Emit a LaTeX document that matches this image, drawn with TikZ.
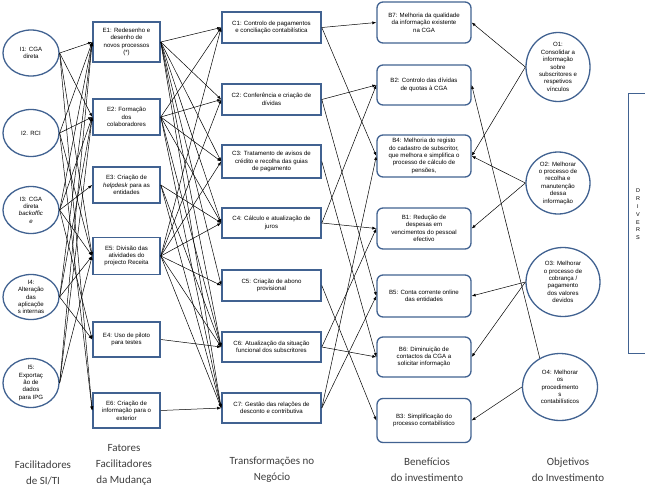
\documentclass[tikz,border=0pt]{standalone}
\usepackage{fontspec}
\setmainfont{Liberation Sans}
\newfontfamily\labfont{Carlito}
\usetikzlibrary{shapes.geometric,arrows.meta}
\definecolor{bcol}{RGB}{65,98,145}
\definecolor{lcol}{RGB}{60,60,60}
\newcommand\nf{\fontsize{6.1}{7.4}\selectfont}
\begin{document}
\begin{tikzpicture}[x=1pt,y=-1pt,
  ibub/.style={ellipse, draw=bcol, line width=1.3pt, minimum width=56pt, minimum height=46pt, inner sep=0pt},
  obub/.style={ellipse, draw=bcol, line width=1.3pt, inner sep=0pt},
  txt/.style={font=\nf, align=center, inner sep=0pt},
  ebox/.style={rectangle, draw=bcol, line width=1.6pt, minimum width=67pt, font=\nf, align=center, inner sep=1pt},
  cbox/.style={rectangle, draw=bcol, line width=1.6pt, minimum width=99pt, font=\nf, align=center, inner sep=1pt},
  bbox/.style={rectangle, rounded corners=6pt, draw=bcol, line width=1.3pt, minimum width=94pt, font=\nf, align=center, inner sep=1pt},
  arr/.style={-{Latex[length=4pt,width=3pt]}, line width=0.5pt, black},
  lab/.style={font=\labfont\fontsize{11}{16}\selectfont, text=lcol, align=center, inner sep=0pt}
]
\useasboundingbox (0,0) rectangle (645,493);

% column 1: IS/IT enablers
\node[ibub] (i1) at (31,53) {};
\node[txt] (i1t) at (i1) {I1: CGA\\direta};
\node[ibub, minimum height=47pt] (i2) at (31,133) {};
\node[txt] (i2t) at (i2) {I2. RCI};
\node[ibub, minimum height=47pt] (i3) at (31,210) {};
\node[txt] (i3t) at (i3) {I3: CGA\\direta\\\textit{backoffic}\\\textit{e}};
\node[ibub, minimum height=45pt] (i4) at (31,297) {};
\node[txt] (i4t) at (i4) {I4:\\Alteração\\das\\aplicaçõe\\s internas};
\node[ibub, minimum height=49pt] (i5) at (31,383) {};
\node[txt] (i5t) at (i5) {I5:\\Exportaç\\ão de\\dados\\para IPG};

% column 2: change enablers
\node[ebox, minimum height=40pt] (e1) at (126.5,42) {E1: Redesenho e\\desenho de\\novos processos\\(*)};
\node[ebox, minimum height=36pt] (e2) at (126.5,117) {E2: Formação\\dos\\colaboradores};
\node[ebox, minimum height=36pt] (e3) at (126.5,185) {E3: Criação de\\\textit{helpdesk} para as\\entidades};
\node[ebox, minimum height=37pt] (e5) at (126.5,256) {E5: Divisão das\\atividades do\\projecto Receita};
\node[ebox, minimum height=35pt] (e4) at (126.5,339.5) {E4: Uso de piloto\\para testes};
\node[ebox, minimum height=35pt] (e6) at (126.5,410.5) {E6: Criação de\\informação para o\\exterior};

% column 3: business changes
\node[cbox, minimum height=31pt] (c1) at (271.5,27.5) {C1: Controlo de pagamentos\\e conciliação contabilística};
\node[cbox, minimum height=31pt] (c2) at (271.5,99.5) {C2: Conferência e criação de\\dívidas};
\node[cbox, minimum height=33pt] (c3) at (271.5,161.5) {C3: Tratamento de avisos de\\crédito e recolha das guias\\de pagamento};
\node[cbox, minimum height=30pt] (c4) at (271.5,223) {C4: Cálculo e atualização de\\juros};
\node[cbox, minimum height=31pt] (c5) at (271.5,285.5) {C5: Criação de abono\\provisional};
\node[cbox, minimum height=30pt] (c6) at (271.5,347) {C6: Atualização da situação\\funcional dos subscritores};
\node[cbox, minimum height=30pt] (c7) at (271.5,408) {C7: Gestão das relações de\\desconto e contributiva};

% column 4: benefits
\node[bbox, minimum height=41pt] (b7) at (424,22.5) {B7: Melhoria da qualidade\\da informação existente\\na CGA};
\node[bbox, minimum height=40pt] (b2) at (424,85) {B2: Controlo das dívidas\\de quotas à CGA};
\node[bbox, minimum height=42pt] (b4) at (424,156) {B4: Melhoria do registo\\do cadastro de subscritor,\\que melhora e simplifica o\\processo de cálculo de\\pensões,};
\node[bbox, minimum height=41pt] (b1) at (424,228.5) {B1: Redução de\\despesas em\\vencimentos do pessoal\\efectivo};
\node[bbox, minimum height=42pt] (b5) at (424,296) {B5: Conta corrente online\\das entidades};
\node[bbox, minimum height=40pt] (b6) at (424,357) {B6: Diminuição de\\contactos da CGA a\\solicitar informação};
\node[bbox, minimum height=44pt] (b3) at (424,420.5) {B3: Simplificação do\\processo contabilístico};

% column 5: objectives
\node[obub, minimum width=64pt, minimum height=69pt] (o1) at (558,67) {};
\node[txt] (o1t) at (o1) {O1:\\Consolidar a\\informação\\sobre\\subscritores e\\respetivos\\vínculos};
\node[obub, minimum width=64pt, minimum height=62pt] (o2) at (558,183) {};
\node[txt] (o2t) at (o2) {O2: Melhorar\\o processo de\\recolha e\\manutenção\\dessa\\informação};
\node[obub, minimum width=74pt, minimum height=69pt] (o3) at (563,282) {};
\node[txt] (o3t) at (o3) {O3: Melhorar\\o processo de\\cobrança /\\pagamento\\dos valores\\devidos};
\node[obub, minimum width=75pt, minimum height=67pt] (o4) at (560,387) {};
\node[txt] (o4t) at (o4) {O4: Melhorar\\os\\procedimento\\s\\contabilísticos};

% drivers
\node[draw=bcol, line width=1.3pt, minimum width=40pt, minimum height=260pt, anchor=north west, inner sep=0pt] (drv) at (628,93) {};
\node[font=\fontsize{5.5}{7.8}\selectfont, align=center, inner sep=0pt] (drvt) at (638,214.5) {D\\R\\I\\V\\E\\R\\S};

% I -> E
\foreach \s/\t in {i1/e1,i1/e2,i1/e5,i1/e6,
                   i2/e1,i2/e2,i2/e5,i2/e6,
                   i3/e1,i3/e2,i3/e3,i3/e5,i3/e4,
                   i4/e1,i4/e2,i4/e5,i4/e4,
                   i5/e1,i5/e2,i5/e5}
  \draw[arr] (\s.east) -- (\t.west);

% E -> C
\foreach \s/\t in {e1/c1,e1/c2,e1/c3,e1/c4,e1/c5,e1/c6,e1/c7,
                   e2/c1,e2/c2,e2/c3,e2/c4,e2/c6,e2/c7,
                   e3/c4,e3/c6,e3/c7,
                   e5/c1,e5/c2,e5/c3,e5/c4,e5/c5,e5/c6,e5/c7,
                   e4/c6,e6/c7}
  \draw[arr] (\s.east) -- (\t.west);

% C -> B
\foreach \s/\t in {c1/b7,c1/b4,c2/b2,c2/b5,c3/b6,c4/b2,c4/b1,
                   c5/b3,c6/b6,c6/b1,c7/b4,c7/b5}
  \draw[arr] (\s.east) -- (\t.west);

% O -> B
\draw[arr] (o1.west) -- (b7.east);
\draw[arr] (o1.west) -- (b4.east);
\draw[arr] (o2.west) -- (b4.east);
\draw[arr] (o2.west) -- (b1.east);
\draw[arr] (o3.west) -- (b5.east);
\draw[arr] (o3.west) -- (b6.east);
\draw[arr] (o4.125) -- (b2.east);
\draw[arr] (o4.west) -- (b3.east);

% bottom labels
\node[lab] (l1) at (43,473) {Facilitadores\\de SI/TI};
\node[lab] (l2) at (124,465) {Fatores\\Facilitadores\\da Mudança};
\node[lab] (l3) at (272,470) {Transformações no\\Negócio};
\node[lab] (l4) at (427,470) {Benefícios\\do investimento};
\node[lab] (l5) at (568,470) {Objetivos\\do Investimento};
\end{tikzpicture}
\end{document}
